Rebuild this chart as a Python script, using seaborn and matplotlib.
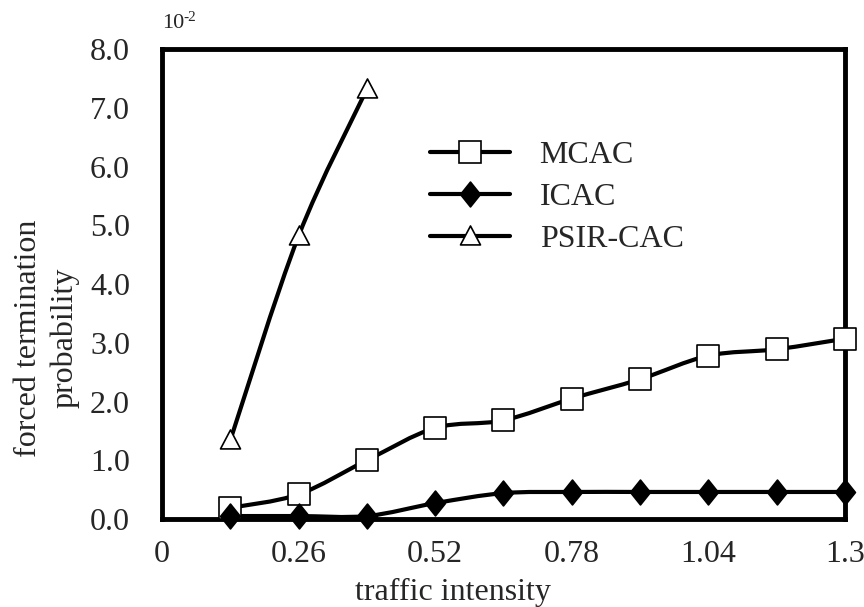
import numpy as np
import matplotlib
matplotlib.use("Agg")
import matplotlib.pyplot as plt
import matplotlib.transforms as mtransforms
import seaborn as sns
from matplotlib.path import Path
from matplotlib.patches import PathPatch
from matplotlib.lines import Line2D

# data (y in units of 10^-2)
traffic = [0.13, 0.26, 0.39, 0.52, 0.65, 0.78, 0.91, 1.04, 1.17, 1.30]
mcac = [0.19, 0.42, 1.00, 1.55, 1.68, 2.05, 2.38, 2.78, 2.89, 3.07]
icac = [0.05, 0.05, 0.05, 0.27, 0.44, 0.46, 0.46, 0.46, 0.46, 0.46]
psir_traffic = [0.13, 0.26, 0.39]
psir_cac = [1.34, 4.82, 7.32]

x_ticks = [0, 0.26, 0.52, 0.78, 1.04, 1.3]
x_tick_labels = ["0", "0.26", "0.52", "0.78", "1.04", "1.3"]
y_ticks = [0, 1, 2, 3, 4, 5, 6, 7, 8]

sns.set_style("white")
plt.rcParams['font.family'] = ['Liberation Serif', 'DejaVu Serif']

FS = 23

# custom marker shapes
diamond = Path([(0, 1), (0.8, 0), (0, -1), (-0.8, 0), (0, 1)],
               [Path.MOVETO, Path.LINETO, Path.LINETO, Path.LINETO, Path.CLOSEPOLY])
triangle = Path([(0, 1), (0.95, -0.8), (-0.95, -0.8), (0, 1)],
                [Path.MOVETO, Path.LINETO, Path.LINETO, Path.CLOSEPOLY])


def smooth_path(xs, ys):
    """Catmull-Rom curve through the points, as cubic Bezier segments."""
    pts = np.column_stack([xs, ys]).astype(float)
    ext = np.vstack([pts[0], pts, pts[-1]])
    verts = [tuple(pts[0])]
    codes = [Path.MOVETO]
    for i in range(1, len(ext) - 2):
        p0, p1, p2, p3 = ext[i - 1], ext[i], ext[i + 1], ext[i + 2]
        c1 = p1 + (p2 - p0) / 6.0
        c2 = p2 - (p3 - p1) / 6.0
        verts += [tuple(c1), tuple(c2), tuple(p2)]
        codes += [Path.CURVE4] * 3
    return Path(verts, codes)


fig, ax = plt.subplots(figsize=(8.64, 6.07), dpi=100)
fig.subplots_adjust(left=0.1875, right=0.978, bottom=0.145, top=0.919)

series = [
    ("MCAC", traffic, mcac, "s", "white", 270),
    ("ICAC", traffic, icac, diamond, "black", 320),
    ("PSIR-CAC", psir_traffic, psir_cac, triangle, "white", 230),
]

handles = []
for name, xs, ys, mk, fc, size in series:
    ax.add_patch(PathPatch(smooth_path(xs, ys), facecolor="none", edgecolor="black",
                           lw=3.0, transform=ax.transData, zorder=2, clip_on=False))
    sns.scatterplot(x=xs, y=ys, ax=ax, marker=mk, s=size, color=fc,
                    edgecolor="black", linewidth=1.2, zorder=3, clip_on=False)
    handles.append(Line2D([], [], color="black", lw=3.0, marker=mk,
                          markersize=np.sqrt(size), markerfacecolor=fc,
                          markeredgecolor="black", markeredgewidth=1.2, label=name))

ax.set_xlim(0, 1.3)
ax.set_ylim(0, 8)
ax.set_xticks(x_ticks)
ax.set_xticklabels(x_tick_labels)
ax.set_yticks(y_ticks)
ax.set_yticklabels([f"{v:.1f}" for v in y_ticks])
ax.tick_params(axis="x", length=0, pad=15, labelsize=FS)
ax.tick_params(axis="y", direction="in", length=4, width=0.6, color="#999999",
               pad=23, labelsize=FS)

for sp in ax.spines.values():
    sp.set_linewidth(3.5)
    sp.set_color("black")

ax.set_xlabel("traffic intensity", fontsize=FS)
ax.xaxis.set_label_coords(0.426, -0.126)
ax.set_ylabel("forced termination\nprobability", fontsize=FS, linespacing=1.3)
ax.yaxis.set_label_coords(-0.121, 0.385)

# 10^-2 scale note
ax.text(0.0, 1.035, "10", transform=ax.transAxes, fontsize=16,
        ha="left", va="bottom")
sup = mtransforms.offset_copy(ax.transAxes, fig=fig, x=21, y=9, units="dots")
ax.text(0.0, 1.035, "-2", transform=sup, fontsize=11, ha="left", va="bottom")

leg = ax.legend(handles=handles, loc="upper left", bbox_to_anchor=(0.392, 0.805),
                frameon=False, fontsize=FS, handlelength=2.5, handletextpad=0.94,
                labelspacing=0.39, borderpad=0, borderaxespad=0)

fig.savefig("out.png", dpi=100)
